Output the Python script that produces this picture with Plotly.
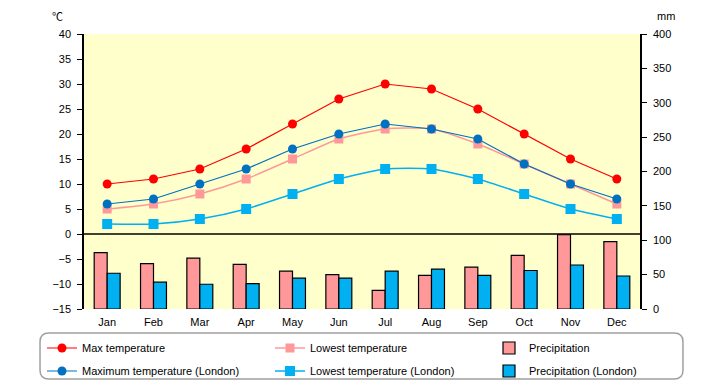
import plotly.graph_objects as go

months = ["Jan", "Feb", "Mar", "Apr", "May", "Jun", "Jul", "Aug", "Sep", "Oct", "Nov", "Dec"]
max_temp = [10, 11, 13, 17, 22, 27, 30, 29, 25, 20, 15, 11]
low_temp = [5, 6, 8, 11, 15, 19, 21, 21, 18, 14, 10, 6]
precip = [82, 66, 74, 65, 55, 50, 27, 49, 61, 78, 108, 98]
max_temp_london = [6, 7, 10, 13, 17, 20, 22, 21, 19, 14, 10, 7]
low_temp_london = [2, 2, 3, 5, 8, 11, 13, 13, 11, 8, 5, 3]
precip_london = [52, 39, 36, 37, 45, 45, 55, 58, 49, 56, 64, 48]

RED = "#FF0000"
PINK = "#FF9999"
BLUE = "#0070C0"
LBLUE = "#00B0F0"
FONT = "Liberation Sans, Arial, sans-serif"

# page body has an 8px margin: figure drawn 712x377 from (8,8)
OFF = 8
W, H = 712, 377


def cx(px):
    return (px - OFF) / W


def cy(py):
    return 1 - (py - OFF) / H


fig = go.Figure()

fig.add_trace(go.Scatter(x=months, y=max_temp, name="Max temperature", mode="lines+markers",
                         line=dict(color=RED, width=1.2), marker=dict(symbol="circle", size=9, color=RED),
                         legend="legend", showlegend=True))
fig.add_trace(go.Scatter(x=months, y=low_temp, name="Lowest temperature", mode="lines+markers",
                         line=dict(color=PINK, width=1.5, shape="spline", smoothing=0.6),
                         marker=dict(symbol="square", size=9, color=PINK), legend="legend2"))
fig.add_trace(go.Bar(x=months, y=precip, name="Precipitation", yaxis="y2",
                     marker=dict(color=PINK, line=dict(color="black", width=1.2)), legend="legend3"))
fig.add_trace(go.Scatter(x=months, y=max_temp_london, name="Maximum temperature (London)", mode="lines+markers",
                         line=dict(color=BLUE, width=1.2), marker=dict(symbol="circle", size=9, color=BLUE),
                         legend="legend4"))
fig.add_trace(go.Scatter(x=months, y=low_temp_london, name="Lowest temperature (London)", mode="lines+markers",
                         line=dict(color=LBLUE, width=1.5, shape="spline", smoothing=0.6),
                         marker=dict(symbol="square", size=10, color=LBLUE), legend="legend5"))
fig.add_trace(go.Bar(x=months, y=precip_london, name="Precipitation (London)", yaxis="y2",
                     marker=dict(color=LBLUE, line=dict(color="black", width=1.2)), legend="legend6"))

# rounded legend frame (paper coords)
x0, x1, y0, y1 = -0.0791, 1.0773, -0.2545, -0.0873
rx, ry = 0.016, 0.032
path = (f"M {x0+rx},{y1} L {x1-rx},{y1} Q {x1},{y1} {x1},{y1-ry} L {x1},{y0+ry} "
        f"Q {x1},{y0} {x1-rx},{y0} L {x0+rx},{y0} Q {x0},{y0} {x0},{y0+ry} "
        f"L {x0},{y1-ry} Q {x0},{y1} {x0+rx},{y1} Z")

leg_common = dict(orientation="v", xref="container", yref="container", xanchor="left", yanchor="middle",
                  font=dict(family=FONT, size=11, color="black"), bgcolor="rgba(0,0,0,0)", visible=True)

col_x = [42, 270, 489]
row_y = [348, 371]
legends = {}
for i in range(6):
    key = "legend" if i == 0 else f"legend{i+1}"
    legends[key] = dict(x=cx(col_x[i % 3]), y=cy(row_y[i // 3]), **leg_common)

fig.update_layout(
    width=W, height=H,
    showlegend=True,
    margin=dict(l=84 - OFF, r=W - (640 - OFF), t=34 - OFF, b=H - (309 - OFF), autoexpand=False),
    paper_bgcolor="white", plot_bgcolor="#FFFFCC",
    font=dict(family=FONT, size=11, color="black"),
    bargap=0.44, bargroupgap=0,
    xaxis=dict(range=[-0.5, len(months) - 0.5], showgrid=False, showline=False, ticks="",
               tickfont=dict(size=11), fixedrange=True, automargin=False, ticklabelstandoff=5),
    yaxis=dict(range=[-15, 40], dtick=5, showgrid=False, zeroline=False, showline=True, linecolor="black",
               linewidth=1.5, ticks="outside", ticklen=5, tickcolor="black", tickfont=dict(size=11),
               automargin=False, ticklabelstandoff=4),
    yaxis2=dict(range=[0, 400], dtick=50, overlaying="y", side="right", showgrid=False, zeroline=False,
                showline=True, linecolor="black", linewidth=1.5, ticks="outside", ticklen=5,
                tickcolor="black", tickfont=dict(size=11), automargin=False, ticklabelstandoff=4),
    shapes=[
        dict(type="line", xref="paper", yref="y", x0=0, x1=1, y0=0, y1=0, line=dict(color="black", width=1.5),
             layer="above"),
        dict(type="path", xref="paper", yref="paper", path=path, line=dict(color="#A0A0A0", width=1.5),
             fillcolor="rgba(0,0,0,0)", layer="below"),
    ],
    annotations=[
        dict(text="℃", xref="paper", yref="paper", x=(57-84)/556, y=(309-16)/275, showarrow=False,
             xanchor="center", yanchor="middle", font=dict(family="Noto Sans CJK JP", size=11)),
        dict(text="mm", xref="paper", yref="paper", x=(666-84)/556, y=(309-16)/275, showarrow=False,
             xanchor="center", yanchor="middle", font=dict(size=11)),
    ],
    **legends,
)

fig.write_html("out.html")
